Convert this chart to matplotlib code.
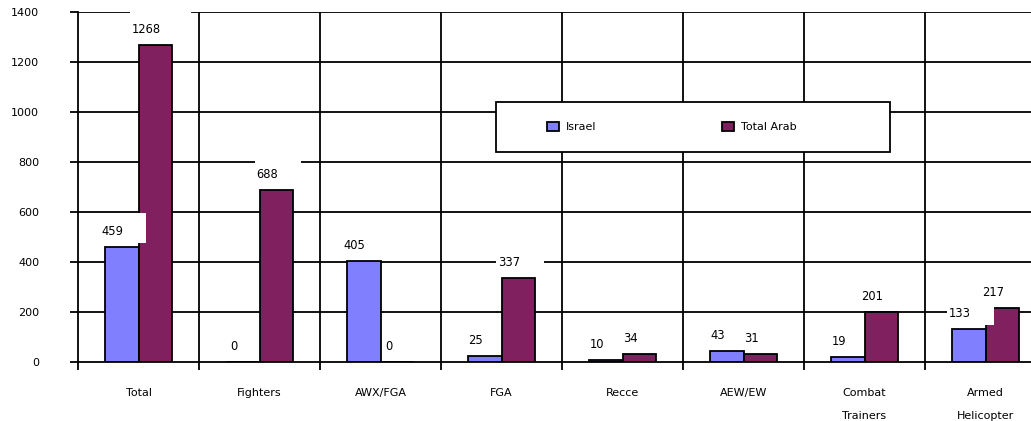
import matplotlib
matplotlib.use("Agg")
import matplotlib.pyplot as plt
import numpy as np
from matplotlib.patches import Rectangle
from matplotlib.transforms import IdentityTransform

categories = ['Total', 'Fighters', 'AWX/FGA', 'FGA', 'Recce', 'AEW/EW',
              'Combat\nTrainers', 'Armed\nHelicopter']
israel = [459, 0, 405, 25, 10, 43, 19, 133]
arab = [1268, 688, 0, 337, 34, 31, 201, 217]
series_names = ['Israel', 'Total Arab']
yticks = [0, 200, 400, 600, 800, 1000, 1200, 1400]

c_isr = '#8080FF'
c_arab = '#80205E'

plt.rcParams['font.family'] = ['DejaVu Sans']

fig = plt.figure(figsize=(10.31, 4.21), dpi=100)
W, H = 1031, 421
ax = fig.add_axes([78 / W, 59 / H, 968 / W, 350 / H])

x = np.arange(len(categories))
bw = 0.28
b1 = ax.bar(x - bw / 2, israel, bw, color=c_isr, edgecolor='black', linewidth=1.3,
            label=series_names[0], zorder=3)
b2 = ax.bar(x + bw / 2, arab, bw, color=c_arab, edgecolor='black', linewidth=1.3,
            label=series_names[1], zorder=3)

ax.set_xlim(-0.5, len(categories) - 0.5)
ax.set_ylim(0, 1400)

# grid
for y in yticks[1:]:
    ax.axhline(y, color='black', lw=1.3, zorder=1)
for b in range(1, len(categories)):
    ax.axvline(b - 0.5, color='black', lw=1.3, zorder=1)

for s in ['top', 'right']:
    ax.spines[s].set_visible(False)
ax.spines['left'].set_linewidth(1.3)
ax.spines['bottom'].set_linewidth(1.3)
ax.spines['bottom'].set_zorder(4)

ax.set_yticks(yticks)
ax.tick_params(axis='y', length=6, width=1.3, pad=22, labelsize=8)
ax.set_xticks(x)
ax.set_xticklabels(categories, linespacing=2.6)
ax.tick_params(axis='x', which='major', length=0, pad=19, labelsize=8)
ax.set_xticks(np.arange(len(categories) + 1) - 0.5, minor=True)
ax.tick_params(axis='x', which='minor', length=6, width=1.3)

# value labels; white boxes like Excel (extra room to the right and above)
labels = []
for bars, vals in [(b1, israel), (b2, arab)]:
    for r, v in zip(bars, vals):
        t = ax.annotate(str(v), (r.get_x() + r.get_width() / 2, v),
                        xytext=(-9 * 0.72, 12 * 0.72), textcoords='offset points',
                        ha='center', va='baseline', fontsize=8.3, zorder=6)
        labels.append((t, r.get_x() + r.get_width() / 2, v))

fig.canvas.draw()
rend = fig.canvas.get_renderer()
for t, cx, v in labels:
    ext = t.get_window_extent(rend)
    px, py = ax.transData.transform((cx, v))
    left = ext.x0 - 2
    right = ext.x1 + ext.width + 1
    box = Rectangle((left, py + 4), right - left, 30, transform=IdentityTransform(),
                    fc='white', ec='none', zorder=5, clip_on=False)
    ax.add_artist(box)

# legend box
frame = Rectangle(((496 - 78) / 968, (362 - 152) / 350), 394 / 968, 50 / 350,
                  transform=ax.transAxes, fc='white', ec='black', lw=1.3, zorder=7)
ax.add_patch(frame)
leg = ax.legend(loc='center left', bbox_to_anchor=((547 - 78) / 968, (362 - 127) / 350),
                ncol=2, fontsize=8, frameon=False, handlelength=1.1, handleheight=0.9,
                handletextpad=0.6, columnspacing=11.3, borderpad=0, borderaxespad=0)
leg.set_zorder(8)

fig.savefig('out.png', dpi=100)
